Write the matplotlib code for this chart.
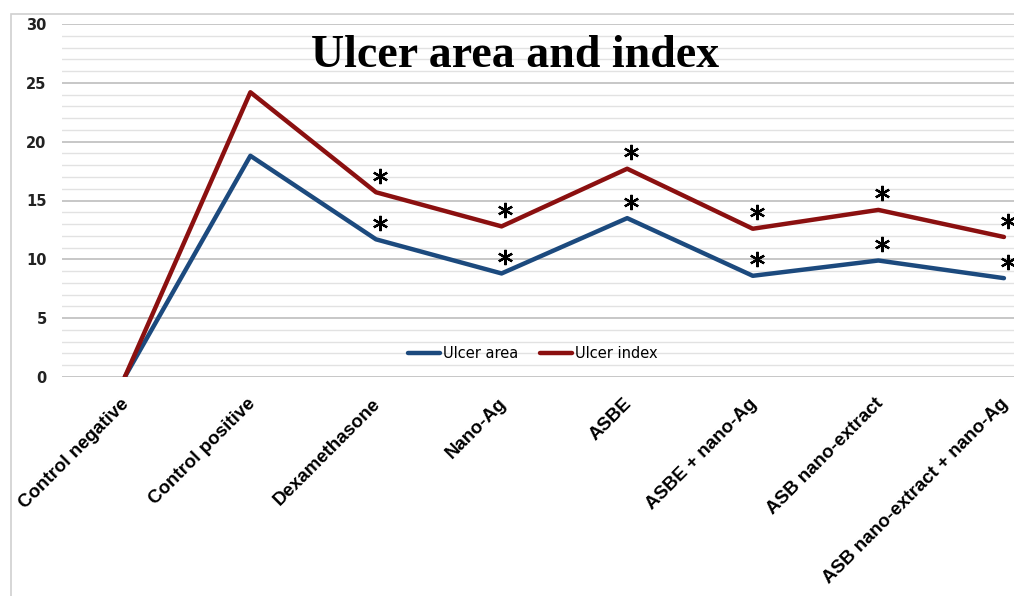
import numpy as np
import matplotlib.pyplot as plt
import matplotlib.transforms as mtransforms
from matplotlib.patches import Rectangle

groups = ['Control negative', 'Control positive', 'Dexamethasone', 'Nano-Ag', 'ASBE',
          'ASBE + nano-Ag', 'ASB nano-extract', 'ASB nano-extract + nano-Ag']
ulcer_area = [0, 18.8, 11.7, 8.8, 13.5, 8.6, 9.9, 8.4]
ulcer_index = [0, 24.2, 15.7, 12.8, 17.7, 12.6, 14.2, 11.9]
# groups marked significant (*)
signif = [False, False, True, True, True, True, True, True]

fig = plt.figure(figsize=(10.14, 5.96), dpi=100)
# light outer chart border
fig.patches.append(Rectangle((11/1014, -0.1), 1.2, 1 - 14/596 + 0.1, transform=fig.transFigure,
                             fill=False, edgecolor='#d0d0d0', linewidth=1.2))
ax = fig.add_axes([62/1014, 1 - 377/596, 1 - 62/1014, (377 - 24)/596])

x = np.arange(len(groups))
ax.plot(x, ulcer_area, color='#1c4a7e', lw=3.2, label='Ulcer area', solid_capstyle='round')
ax.plot(x, ulcer_index, color='#8b1010', lw=3.2, label='Ulcer index', solid_capstyle='round')

sx = x[np.array(signif)] + 0.03
for series in (ulcer_area, ulcer_index):
    sy = np.array(series)[np.array(signif)] + 1.4
    ax.plot(sx, sy, ls='none', marker=(6, 2, 0), ms=11, mew=1.6, color='black')

ax.set_xlim(-0.5, 7.08)
ax.set_ylim(0, 30)
ax.set_yticks(np.arange(0, 31, 5))
ax.set_yticks(np.arange(0, 31, 1), minor=True)
ax.grid(axis='y', which='major', color='#b8b8b8', lw=1.1)
ax.grid(axis='y', which='minor', color='#e2e2e2', lw=1.0)
ax.set_axisbelow(True)
for s in ax.spines.values():
    s.set_visible(False)
ax.tick_params(axis='both', which='both', length=0)
ax.tick_params(axis='y', pad=11)
ax.set_yticklabels([str(v) for v in range(0, 31, 5)], fontsize=10.5, fontweight='bold',
                   family='DejaVu Sans', color='#222222')
ax.set_xticks(x)
ax.set_xticklabels(groups, rotation=45, ha='right', rotation_mode='anchor', fontsize=13.5,
                   fontweight='bold', family='Liberation Sans')
ax.tick_params(axis='x', pad=8)
shift = mtransforms.ScaledTranslation(-4/100, -7/100, fig.dpi_scale_trans)
for lab in ax.get_xticklabels():
    lab.set_transform(lab.get_transform() + shift)

ax.set_title('Ulcer area and index', fontsize=33, fontweight='bold', family='Liberation Serif',
             x=(515 - 62) / (1014 - 62), y=0.885, va='center')

leg = ax.legend(loc='center', bbox_to_anchor=((533 - 62) / (1014 - 62), (377 - 354) / 353),
                ncol=2, frameon=False, fontsize=10.5, handlelength=2.2, columnspacing=1.5,
                handletextpad=0.2)

plt.savefig('out.png', dpi=100)
